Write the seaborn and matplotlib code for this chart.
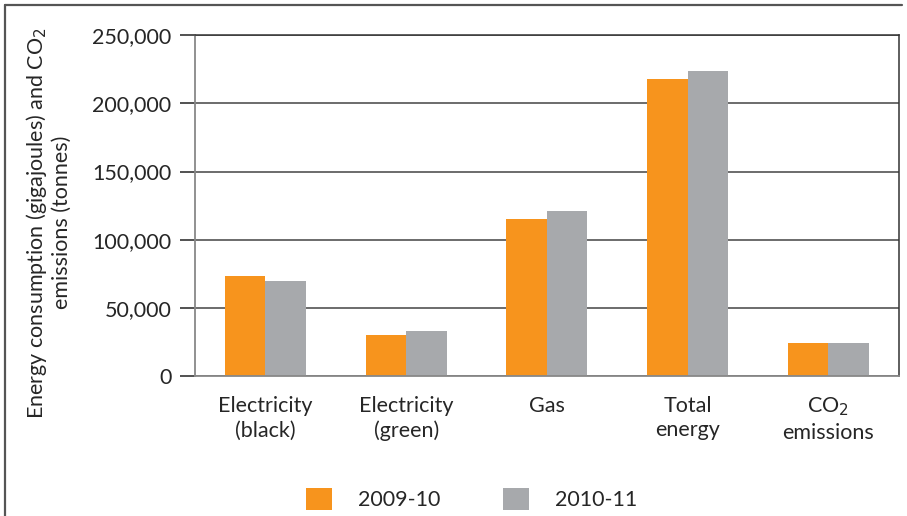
import numpy as np
import pandas as pd
import matplotlib
matplotlib.use('Agg')
import matplotlib.pyplot as plt
from matplotlib.lines import Line2D
import seaborn as sns

categories = ['Electricity\n(black)', 'Electricity\n(green)', 'Gas', 'Total\nenergy', 'CO$_2$\nemissions']
years = ['2009-10', '2010-11']
vals_2009 = [73300, 30000, 115000, 217700, 24200]
vals_2010 = [69600, 33000, 121000, 223600, 24200]
yticks = [0, 50000, 100000, 150000, 200000, 250000]
colors = ['#F7941D', '#A7A9AC']

df = pd.DataFrame({
    'category': categories * 2,
    'year': [years[0]] * 5 + [years[1]] * 5,
    'value': vals_2009 + vals_2010,
})

sns.set_style('white')
plt.rcParams['font.family'] = ['Lato', 'DejaVu Sans']
fs = 15.5

fig = plt.figure(figsize=(9.07, 5.16), dpi=100)
ax = fig.add_axes([0.215, 0.271, 0.776, 0.661])

sns.barplot(data=df, x='category', y='value', hue='year', palette=colors,
            width=0.575, saturation=1, linewidth=0, ax=ax, legend=True)

ax.set_ylim(0, 250000)
ax.set_xlim(-0.5, 4.5)
ax.set_yticks(yticks)
ax.set_yticklabels(['{:,}'.format(v) for v in yticks], fontsize=fs)
ax.yaxis.grid(True, color='#444444', linewidth=1.1)
ax.set_axisbelow(True)

ax.set_xticks(range(5))
ax.set_xticklabels(categories, fontsize=fs, linespacing=1.3)
ax.set_xticks(np.arange(0.5, 4.5, 1), minor=True)
ax.tick_params(axis='x', which='major', length=0, pad=14)
ax.tick_params(axis='x', which='minor', length=11, width=1.1, color='#222222', direction='out')
ax.tick_params(axis='y', length=11, width=1.1, color='#222222', direction='out', pad=6, left=True)

for s in ['left', 'bottom']:
    ax.spines[s].set_color('#888888')
    ax.spines[s].set_linewidth(1.3)
for s in ['right', 'top']:
    ax.spines[s].set_color('#333333')
    ax.spines[s].set_linewidth(1.1)

ax.set_xlabel('')
ax.set_ylabel('Energy consumption (gigajoules) and CO$_2$\nemissions (tonnes)',
              fontsize=15.5, linespacing=1.2)
ax.yaxis.set_label_coords(-0.175, 0.45)

h, l = ax.get_legend_handles_labels()
ax.legend(h, l, loc='upper center', bbox_to_anchor=(0.393, -0.27), ncol=2,
          frameon=False, fontsize=fs, handlelength=1.2, handleheight=1.2,
          columnspacing=2.9, handletextpad=1.2)

fig.add_artist(Line2D([5/907, 5/907], [0, 1 - 5/516], color='#555555', linewidth=1.6))
fig.add_artist(Line2D([5/907, 902/907], [1 - 5/516, 1 - 5/516], color='#555555', linewidth=1.6))

fig.savefig('out.png', dpi=100)
